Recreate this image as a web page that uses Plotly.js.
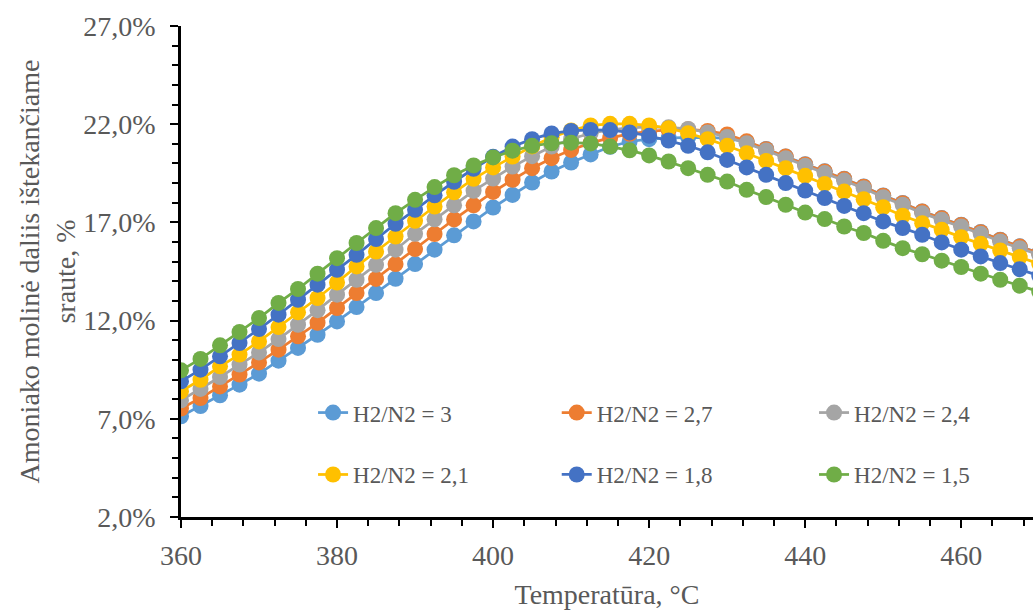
<!DOCTYPE html>
<html>
<head>
<meta charset="utf-8">
<script src="https://cdn.plot.ly/plotly-3.0.1.min.js"></script>
<style>html,body{margin:0;padding:0;background:#fff;}#chart{width:1033px;height:610px;}</style>
</head>
<body>
<div id="chart"></div>
<script>
// Temperature, °C
const temperature = [360,362.5,365,367.5,370,372.5,375,377.5,380,382.5,385,387.5,390,392.5,395,397.5,400,402.5,405,407.5,410,412.5,415,417.5,420,422.5,425,427.5,430,432.5,435,437.5,440,442.5,445,447.5,450,452.5,455,457.5,460,462.5,465,467.5,470];

// Ammonia mole fraction in outlet stream, %
const ratio30 = [7.13,7.65,8.20,8.74,9.30,9.96,10.61,11.28,11.96,12.69,13.40,14.13,14.88,15.61,16.34,17.05,17.76,18.40,19.03,19.59,20.05,20.46,20.85,21.12,21.24,21.30,21.33,21.33,21.28,21.10,20.74,20.36,19.96,19.60,19.22,18.83,18.37,17.99,17.56,17.22,16.88,16.51,16.12,15.78,15.44];
const ratio27 = [7.52,8.06,8.65,9.25,9.87,10.52,11.20,11.89,12.64,13.40,14.12,14.88,15.64,16.41,17.15,17.87,18.55,19.17,19.76,20.27,20.69,21.05,21.30,21.51,21.63,21.71,21.74,21.66,21.48,21.13,20.73,20.35,19.95,19.59,19.21,18.82,18.36,17.98,17.55,17.21,16.87,16.50,16.11,15.77,15.43];
const ratio24 = [7.94,8.52,9.13,9.76,10.38,11.06,11.79,12.53,13.32,14.08,14.84,15.61,16.42,17.16,17.87,18.61,19.23,19.84,20.37,20.86,21.25,21.54,21.71,21.81,21.86,21.84,21.76,21.58,21.35,21.03,20.66,20.27,19.88,19.51,19.13,18.74,18.28,17.90,17.47,17.13,16.79,16.42,16.03,15.69,15.35];
const ratio21 = [8.40,8.99,9.67,10.27,10.94,11.67,12.42,13.15,13.94,14.76,15.52,16.28,17.08,17.81,18.53,19.22,19.80,20.35,20.87,21.33,21.68,21.94,22.02,22.02,21.94,21.80,21.54,21.24,20.90,20.52,20.13,19.76,19.37,18.96,18.57,18.18,17.77,17.34,16.96,16.62,16.25,15.91,15.57,15.24,14.89];
const ratio18 = [8.91,9.50,10.18,10.86,11.57,12.30,13.06,13.83,14.59,15.35,16.15,16.93,17.64,18.38,19.07,19.73,20.34,20.86,21.24,21.53,21.66,21.71,21.70,21.58,21.41,21.17,20.90,20.57,20.18,19.80,19.42,19.00,18.62,18.24,17.84,17.47,17.05,16.71,16.37,15.98,15.61,15.27,14.93,14.62,14.28];
const ratio15 = [9.47,10.05,10.74,11.42,12.13,12.90,13.61,14.39,15.18,15.95,16.71,17.47,18.15,18.80,19.40,19.90,20.31,20.65,20.90,21.03,21.06,21.02,20.86,20.67,20.41,20.10,19.76,19.42,19.08,18.66,18.29,17.90,17.50,17.17,16.79,16.46,16.06,15.69,15.38,15.05,14.73,14.39,14.08,13.78,13.47];

const seriesNames = ['H2/N2 = 3','H2/N2 = 2,7','H2/N2 = 2,4','H2/N2 = 2,1','H2/N2 = 1,8','H2/N2 = 1,5'];
const seriesValues = [ratio30, ratio27, ratio24, ratio21, ratio18, ratio15];
const seriesColors = ['#5B9BD5','#ED7D31','#A5A5A5','#FFC000','#4472C4','#70AD47'];

const yTickVals = [0.02,0.07,0.12,0.17,0.22,0.27];
const xTickVals = [360,380,400,420,440,460];

const FONT = '"Liberation Serif", "Times New Roman", serif';

const legendIds = ['legend','legend2','legend3','legend4','legend5','legend6'];
const legendX = [0.155, 0.441, 0.743, 0.155, 0.441, 0.743];
const legendY = [0.2126, 0.2126, 0.2126, 0.0865, 0.0865, 0.0865];

const traces = seriesValues.map((vals, k) => ({
  type: 'scatter',
  mode: 'lines+markers',
  name: seriesNames[k],
  x: temperature,
  y: vals.map(v => v / 100),
  line: {color: seriesColors[k], width: 2.75},
  marker: {color: seriesColors[k], size: 16, symbol: 'circle'},
  legend: legendIds[k],
  hoverinfo: 'x+y+name'
}));

const layout = {
  width: 1033,
  height: 610,
  margin: {l: 181, r: 0, t: 26, b: 92.5, pad: 0},
  paper_bgcolor: '#ffffff',
  plot_bgcolor: '#ffffff',
  separators: ',.',
  font: {family: FONT, color: '#595959'},
  showlegend: true,
  xaxis: {
    range: [360, 469.2],
    tickmode: 'array',
    tickvals: xTickVals,
    ticks: 'outside',
    ticklen: 8,
    tickwidth: 2,
    tickcolor: '#000',
    ticklabelstandoff: 4,
    minor: {dtick: 4, tick0: 360, ticks: 'outside', ticklen: 6, tickwidth: 2, tickcolor: '#000', showgrid: false},
    showline: true,
    linecolor: '#000',
    linewidth: 2.5,
    showgrid: false,
    zeroline: false,
    tickfont: {family: FONT, size: 28, color: '#595959'},
    title: {text: 'Temperatūra, °C', font: {family: FONT, size: 28, color: '#595959'}, standoff: 17}
  },
  yaxis: {
    range: [0.02, 0.27],
    tickmode: 'array',
    tickvals: yTickVals,
    tickformat: '.1%',
    ticks: 'outside',
    ticklen: 8,
    tickwidth: 2,
    tickcolor: '#000',
    ticklabelstandoff: 9,
    minor: {dtick: 0.01, tick0: 0.02, ticks: 'outside', ticklen: 6, tickwidth: 2, tickcolor: '#000', showgrid: false},
    showline: true,
    linecolor: '#000',
    linewidth: 2.5,
    showgrid: false,
    zeroline: false,
    tickfont: {family: FONT, size: 28, color: '#595959'},
    title: {text: 'Amoniako molinė daliis ištekančiame<br>sraute, %', font: {family: FONT, size: 28, color: '#595959'}, standoff: 0}
  }
};

legendIds.forEach((id, k) => {
  layout[id] = {
    x: legendX[k],
    y: legendY[k],
    xanchor: 'left',
    yanchor: 'middle',
    orientation: 'h',
    bgcolor: 'rgba(0,0,0,0)',
    font: {family: FONT, size: 23, color: '#595959'},
    itemclick: false,
    itemdoubleclick: false
  };
});

Plotly.newPlot('chart', traces, layout, {displayModeBar: false});
</script>
</body>
</html>
